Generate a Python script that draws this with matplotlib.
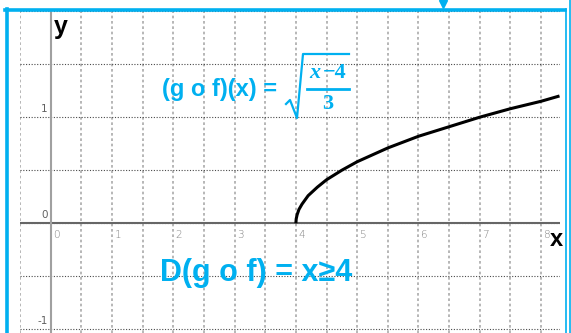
import matplotlib
matplotlib.use("Agg")
import matplotlib.pyplot as plt
from matplotlib.lines import Line2D
import numpy as np

# curve
curve_x = [4.0, 4.005, 4.02, 4.05, 4.1, 4.2, 4.35, 4.5, 4.75, 5.0, 5.5, 6.0, 6.5, 7.0, 7.5, 8.0, 8.3]
curve_y = [0.0, 0.04, 0.08, 0.13, 0.18, 0.26, 0.34, 0.41, 0.50, 0.58, 0.71, 0.82, 0.91, 1.0, 1.08, 1.15, 1.20]

x_ticks = [0, 1, 2, 3, 4, 5, 6, 7, 8]
y_ticks = [-1, 0, 1]
grid_x = np.arange(-0.5, 8.01, 0.5)
grid_y = np.arange(-1.0, 2.01, 0.5)

blue = "#00b0f0"
W, H = 571, 333


def px(x, y):
    # pixel position (from top-left) -> figure fraction
    return x / W, 1 - y / H


fig = plt.figure(figsize=(5.71, 3.33), dpi=100)
ax = fig.add_axes([20 / W, 0, 539.5 / W, 324 / H])
ax.set_xlim(-0.5, 8.3)
ax.set_ylim(-1.035, 2.02)
ax.axis("off")

for gx in grid_x:
    ax.axvline(gx, color="#aaaaaa", lw=1.2, ls=(0, (1.6, 1.6)), zorder=1)
for gy in grid_y:
    ax.axhline(gy, color="#4a4a4a", lw=0.8, ls=(0, (1, 1.5)), zorder=1)

ax.axhline(0, color="#666666", lw=1.5, zorder=2)
ax.axvline(0, color="#a0a0a0", lw=1.5, zorder=2)

for t in x_ticks:
    ax.text(t + 0.04, -0.06, str(t), fontsize=7.5, color="#808080",
            ha="left", va="top", family="DejaVu Sans", fontweight="light")
for t in y_ticks:
    ax.text(-0.05, t + 0.03, str(t), fontsize=7.5, color="#606060",
            ha="right", va="bottom", family="DejaVu Sans")

ax.plot(curve_x, curve_y, color="black", lw=2.2, zorder=3, solid_capstyle="butt")

fig.text(*px(54, 27), "y", fontsize=18, fontweight="bold", ha="left", va="center",
         family="Liberation Sans")
fig.text(*px(550, 239), "x", fontsize=17, fontweight="bold", ha="left", va="center",
         family="Liberation Sans")

fig.text(*px(162, 89), "(g o f)(x) =", fontsize=17, fontweight="bold", color=blue,
         ha="left", va="center", family="Liberation Sans")

# square root of a fraction, built by hand
rad = [px(286, 104), px(290, 100), px(297, 118), px(303, 54), px(349, 54)]
fig.add_artist(Line2D([p[0] for p in rad], [p[1] for p in rad], color=blue, lw=1.6))
fig.add_artist(Line2D([px(307, 0)[0], px(349, 0)[0]], [px(0, 89)[1]] * 2, color=blue, lw=2.0))
fig.text(*px(315, 73), "x", fontsize=16, color=blue, fontweight="bold", style="italic",
         ha="center", va="center", family="Liberation Serif")
fig.text(*px(335, 73), "\u22124", fontsize=16, color=blue, fontweight="bold",
         ha="center", va="center", family="Liberation Serif")
fig.text(*px(328, 104), "3", fontsize=16, color=blue, fontweight="bold",
         ha="center", va="center", family="Liberation Serif")

fig.text(*px(256, 273), "D(g o f) = x≥4", fontsize=22, fontweight="bold", color=blue,
         ha="center", va="center", family="Liberation Sans")

# blue frame
fig.add_artist(Line2D([6.5 / W, 6.5 / W], [0, 324 / H], color=blue, lw=2.6))
fig.add_artist(Line2D([5 / W, 565 / W], [323.5 / H, 323.5 / H], color=blue, lw=2.6))
fig.add_artist(Line2D([566 / W, 566 / W], [0, 324 / H], color=blue, lw=1.2))
fig.add_artist(Line2D([569.5 / W, 569.5 / W], [0, 1], color=blue, lw=1.2))
fig.add_artist(Line2D([443 / W], [329 / H], color=blue, marker="v", ms=6, lw=0))

fig.savefig("out.png", dpi=100)
